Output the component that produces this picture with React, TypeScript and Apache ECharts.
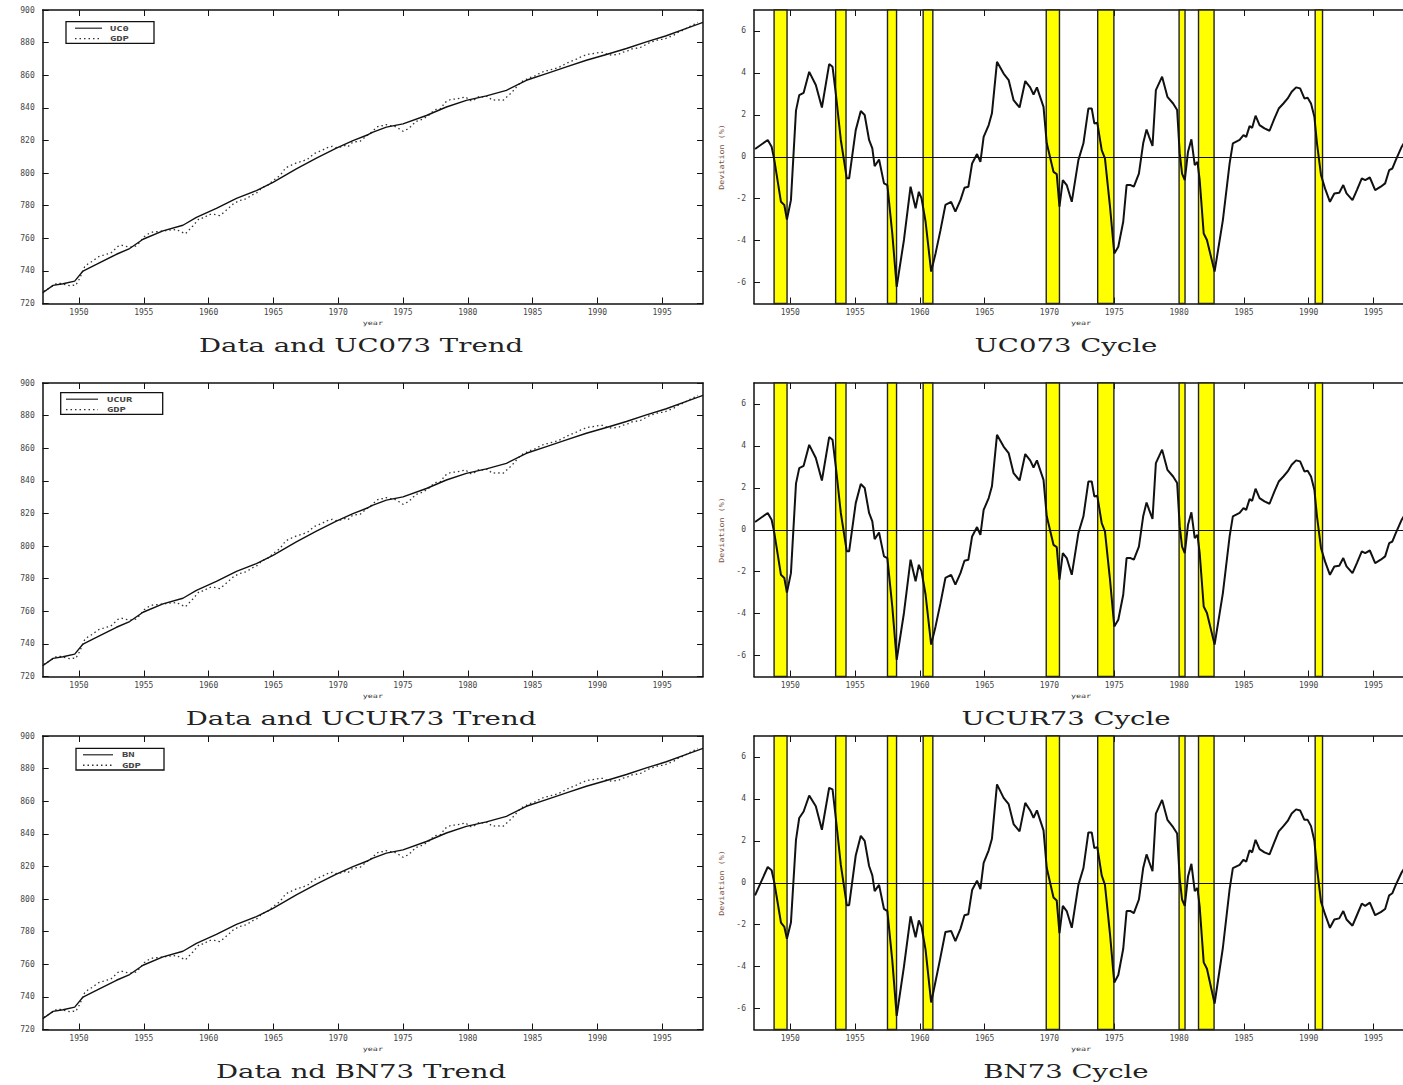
import React, { useEffect, useRef } from 'react';
import * as echarts from 'echarts';

// ---------- data ----------
const xTickYears = [1950, 1955, 1960, 1965, 1970, 1975, 1980, 1985, 1990, 1995];
const levelTicks = [720, 740, 760, 780, 800, 820, 840, 860, 880, 900];
const deviationTicks = [-6, -4, -2, 0, 2, 4, 6];

const recessionStarts = [1948.75, 1953.5, 1957.5, 1960.25, 1969.75, 1973.72, 1980.0, 1981.5, 1990.5];
const recessionEnds = [1949.75, 1954.3, 1958.2, 1961.0, 1970.77, 1974.97, 1980.46, 1982.7, 1991.07];

const trendYears = [
  1947.2, 1948.0, 1948.77, 1949.67, 1950.31, 1951.34, 1952.89, 1953.91, 1954.94, 1956.48,
  1958.02, 1959.06, 1960.6, 1962.15, 1963.69, 1964.97, 1966.77, 1968.32, 1969.86, 1971.14,
  1972.3, 1972.69, 1973.72, 1975.0, 1976.81, 1978.35, 1979.89, 1981.44, 1982.98, 1984.52,
  1986.07, 1987.61, 1989.15, 1990.7, 1992.24, 1993.78, 1995.32, 1996.87, 1998.15,
];
const trendValues = [
  726.6, 731.1, 732.1, 733.7, 739.9, 744.0, 750.2, 753.7, 759.4, 764.5,
  768.0, 772.8, 778.3, 784.5, 789.2, 794.3, 802.5, 809.1, 815.3, 819.9,
  823.5, 825.1, 828.2, 830.2, 835.3, 840.5, 844.6, 847.3, 850.7, 856.9,
  861.0, 865.1, 869.2, 872.7, 876.4, 880.5, 884.2, 888.7, 892.4,
];

const cycleYears = [
  1947.28, 1948.26, 1948.56, 1948.77, 1949.28, 1949.54, 1949.74, 1950.05, 1950.44, 1950.69,
  1951.03, 1951.46, 1951.97, 1952.44, 1953.0, 1953.26, 1953.51, 1953.9, 1954.36, 1954.54,
  1955.05, 1955.44, 1955.74, 1956.08, 1956.33, 1956.51, 1956.85, 1957.23, 1957.49, 1957.87,
  1958.21, 1958.77, 1959.28, 1959.67, 1959.92, 1960.13, 1960.44, 1960.87, 1961.21, 1961.59,
  1961.97, 1962.41, 1962.74, 1963.13, 1963.44, 1963.74, 1964.03, 1964.41, 1964.67, 1964.92,
  1965.31, 1965.56, 1965.95, 1966.46, 1966.85, 1967.23, 1967.69, 1968.13, 1968.51, 1968.77,
  1969.03, 1969.54, 1969.79, 1970.31, 1970.56, 1970.77, 1971.03, 1971.33, 1971.72, 1972.23,
  1972.62, 1973.0, 1973.26, 1973.46, 1973.69, 1974.03, 1974.28, 1974.67, 1975.0, 1975.31,
  1975.69, 1975.95, 1976.26, 1976.51, 1976.9, 1977.23, 1977.49, 1977.69, 1977.95, 1978.21,
  1978.69, 1979.1, 1979.54, 1979.85, 1980.05, 1980.23, 1980.44, 1980.69, 1980.95, 1981.21,
  1981.42, 1981.59, 1981.9, 1982.15, 1982.74, 1983.38, 1983.9, 1984.15, 1984.67, 1984.97,
  1985.18, 1985.44, 1985.64, 1985.9, 1986.21, 1986.59, 1986.98, 1987.36, 1987.69, 1988.05,
  1988.38, 1988.69, 1989.03, 1989.34, 1989.67, 1989.92, 1990.18, 1990.44, 1990.64, 1990.95,
  1991.26, 1991.64, 1991.98, 1992.36, 1992.67, 1992.92, 1993.38, 1993.72, 1994.1, 1994.36,
  1994.72, 1995.13, 1995.56, 1995.9, 1996.21, 1996.46, 1996.72, 1997.18, 1997.5, 1997.75,
];

const gdpValues = [
  727.4, 732.2, 732.3, 731.9, 730.9, 731.2, 731.0, 735.3, 742.6, 744.3,
  745.9, 748.5, 749.9, 750.8, 755.0, 755.8, 755.3, 754.5, 755.2, 756.2,
  761.1, 763.2, 764.0, 764.0, 764.4, 764.2, 765.2, 764.9, 765.5, 764.0,
  762.7, 767.4, 772.2, 772.5, 774.2, 774.6, 774.6, 773.9, 776.1, 778.8,
  781.5, 783.2, 783.7, 785.4, 786.9, 788.0, 790.2, 792.2, 792.9, 795.1,
  797.3, 799.0, 803.2, 805.1, 806.5, 807.2, 808.8, 811.9, 813.2, 813.9,
  815.3, 816.4, 815.6, 816.2, 817.0, 816.2, 818.4, 819.2, 819.6, 823.1,
  825.4, 828.3, 829.1, 829.0, 829.7, 829.0, 829.0, 827.3, 825.6, 826.8,
  829.0, 831.5, 832.4, 833.1, 834.8, 837.3, 838.9, 839.2, 839.6, 843.2,
  845.2, 845.4, 846.2, 846.7, 845.1, 844.4, 844.5, 846.2, 847.3, 846.5,
  847.1, 846.5, 844.6, 844.9, 844.7, 849.3, 854.1, 856.0, 858.1, 859.1,
  859.6, 860.8, 861.3, 862.6, 862.9, 863.8, 864.6, 866.2, 867.6, 868.8,
  869.9, 871.1, 872.2, 872.9, 873.2, 873.7, 874.0, 874.0, 873.2, 872.4,
  872.5, 872.9, 874.1, 875.0, 876.2, 876.4, 877.3, 878.7, 880.3, 880.8,
  881.8, 882.1, 883.5, 884.6, 886.2, 886.9, 888.1, 890.1, 891.3, 892.4,
];

const cycleUC0 = [
  0.37, 0.8, 0.48, -0.16, -2.15, -2.3, -3.0, -2.07, 2.2, 2.94,
  3.05, 4.05, 3.42, 2.35, 4.42, 4.29, 3.02, 0.8, -1.03, -1.03,
  1.27, 2.18, 1.99, 0.8, 0.4, -0.45, -0.13, -1.27, -1.35, -3.66,
  -6.2, -3.97, -1.43, -2.46, -1.67, -1.99, -3.1, -5.48, -4.61, -3.5,
  -2.3, -2.15, -2.62, -2.07, -1.48, -1.43, -0.32, 0.13, -0.24, 0.95,
  1.51, 2.07, 4.53, 3.97, 3.66, 2.7, 2.35, 3.61, 3.31, 2.97,
  3.31, 2.38, 0.64, -0.72, -0.83, -2.38, -1.11, -1.35, -2.15, -0.16,
  0.64, 2.3, 2.3, 1.59, 1.62, 0.32, -0.08, -2.38, -4.61, -4.29,
  -3.1, -1.35, -1.35, -1.43, -0.8, 0.64, 1.3, 0.95, 0.52, 3.18,
  3.82, 2.86, 2.54, 2.23, 0.16, -0.8, -1.11, 0.24, 0.83, -0.4,
  -0.24, -1.11, -3.66, -3.97, -5.48, -3.02, -0.32, 0.64, 0.8, 1.03,
  0.95, 1.46, 1.38, 1.96, 1.51, 1.35, 1.24, 1.83, 2.3, 2.54,
  2.78, 3.1, 3.31, 3.26, 2.78, 2.81, 2.54, 1.91, 0.64, -0.87,
  -1.51, -2.15, -1.75, -1.72, -1.35, -1.75, -2.07, -1.59, -1.03, -1.11,
  -0.99, -1.59, -1.43, -1.27, -0.64, -0.56, -0.16, 0.48, 0.8, 1.1,
];

const cycleUCUR = [
  0.37, 0.8, 0.48, -0.16, -2.15, -2.3, -3.0, -2.07, 2.2, 2.94,
  3.05, 4.05, 3.42, 2.35, 4.42, 4.29, 3.02, 0.8, -1.03, -1.03,
  1.27, 2.18, 1.99, 0.8, 0.4, -0.45, -0.13, -1.27, -1.35, -3.66,
  -6.2, -3.97, -1.43, -2.46, -1.67, -1.99, -3.1, -5.48, -4.61, -3.5,
  -2.3, -2.15, -2.62, -2.07, -1.48, -1.43, -0.32, 0.13, -0.24, 0.95,
  1.51, 2.07, 4.53, 3.97, 3.66, 2.7, 2.35, 3.61, 3.31, 2.97,
  3.31, 2.38, 0.64, -0.72, -0.83, -2.38, -1.11, -1.35, -2.15, -0.16,
  0.64, 2.3, 2.3, 1.59, 1.62, 0.32, -0.08, -2.38, -4.61, -4.29,
  -3.1, -1.35, -1.35, -1.43, -0.8, 0.64, 1.3, 0.95, 0.52, 3.18,
  3.82, 2.86, 2.54, 2.23, 0.16, -0.8, -1.11, 0.24, 0.83, -0.4,
  -0.24, -1.11, -3.66, -3.97, -5.48, -3.02, -0.32, 0.64, 0.8, 1.03,
  0.95, 1.46, 1.38, 1.96, 1.51, 1.35, 1.24, 1.83, 2.3, 2.54,
  2.78, 3.1, 3.31, 3.26, 2.78, 2.81, 2.54, 1.91, 0.64, -0.87,
  -1.51, -2.15, -1.75, -1.72, -1.35, -1.75, -2.07, -1.59, -1.03, -1.11,
  -0.99, -1.59, -1.43, -1.27, -0.64, -0.56, -0.16, 0.48, 0.8, 1.1,
];

const cycleBN = [
  -0.6, 0.75, 0.6, 0.0, -1.9, -2.1, -2.67, -1.9, 2.05, 3.09,
  3.4, 4.16, 3.65, 2.53, 4.53, 4.45, 3.1, 0.85, -1.07, -1.07,
  1.3, 2.24, 2.0, 0.8, 0.35, -0.4, -0.1, -1.25, -1.35, -3.7,
  -6.35, -4.0, -1.6, -2.6, -1.8, -2.1, -3.2, -5.71, -4.7, -3.55,
  -2.35, -2.3, -2.78, -2.2, -1.55, -1.5, -0.35, 0.1, -0.3, 0.95,
  1.55, 2.1, 4.69, 4.05, 3.75, 2.8, 2.45, 3.81, 3.45, 3.1,
  3.45, 2.5, 0.7, -0.7, -0.85, -2.4, -1.1, -1.35, -2.15, -0.1,
  0.7, 2.4, 2.4, 1.65, 1.7, 0.35, -0.1, -2.45, -4.76, -4.4,
  -3.15, -1.35, -1.35, -1.45, -0.8, 0.7, 1.35, 1.0, 0.55, 3.3,
  3.95, 3.0, 2.65, 2.35, 0.2, -0.8, -1.1, 0.3, 0.9, -0.4,
  -0.25, -1.15, -3.8, -4.1, -5.76, -3.1, -0.3, 0.7, 0.85, 1.1,
  1.0, 1.55, 1.45, 2.05, 1.6, 1.45, 1.35, 1.95, 2.45, 2.7,
  2.95, 3.3, 3.5, 3.45, 3.0, 3.0, 2.7, 2.0, 0.7, -0.9,
  -1.5, -2.15, -1.75, -1.7, -1.35, -1.75, -2.05, -1.55, -1.0, -1.1,
  -0.95, -1.55, -1.4, -1.25, -0.6, -0.5, -0.1, 0.5, 0.8, 1.1,
];

const trendLegendNames = ['UC0', 'UCUR', 'BN'];
const trendTitles = ['Data and UC073 Trend', 'Data and UCUR73 Trend', 'Data nd BN73 Trend'];
const cycleTitles = ['UC073 Cycle', 'UCUR73 Cycle', 'BN73 Cycle'];
const cycleSets = [cycleUC0, cycleUCUR, cycleBN];

// ---------- layout ----------
const X_MIN = 1947.2;
const X_MAX = 1998.15;
const ROW_TOPS = [10, 383, 736];
const PLOT_H = 293.5;
const PLOT_W = 660.3;
const LEFT_X = 42.7;
const RIGHT_X = 754;
const LEGEND_BOXES = [
  { x: 66, y: 21.7, w: 88, h: 21.6, lx0: 75, lx1: 102, tx: 110 },
  { x: 60.7, y: 392.7, w: 102, h: 21.6, lx0: 66, lx1: 98, tx: 107 },
  { x: 76, y: 748.3, w: 88, h: 21.7, lx0: 83, lx1: 113, tx: 122 },
];

const FONT_MONO = '"DejaVu Sans Mono", monospace';
const FONT_SERIF = '"DejaVu Serif", serif';

function pairs(xs: number[], ys: number[]) {
  return xs.map((x, i) => [x, ys[i]]);
}

const plainNumber = (v: number) => String(v);

function buildOption() {
  const grid: any[] = [];
  const xAxis: any[] = [];
  const yAxis: any[] = [];
  const series: any[] = [];
  const graphic: any[] = [];

  const tickStyle = { color: '#111', width: 1 };
  const lineStyle = { color: '#111', width: 1.5 };

  ROW_TOPS.forEach((top, r) => {
    [0, 1].forEach((side) => {
      const g = 2 * r + side;
      grid.push({
        left: side === 0 ? LEFT_X : RIGHT_X,
        top,
        width: PLOT_W,
        height: PLOT_H,
        outerBoundsMode: 'none',
        containLabel: false,
        show: false,
      });
      const isLevel = side === 0;
      const yMin = isLevel ? 720 : -7;
      const yMax = isLevel ? 900 : 7;
      const yTicks = isLevel ? levelTicks : deviationTicks;
      xAxis.push({
        type: 'value', gridIndex: g, position: 'bottom', min: X_MIN, max: X_MAX,
        axisLine: { show: true, onZero: false, lineStyle },
        axisTick: { show: true, inside: true, length: 6, customValues: xTickYears, lineStyle: tickStyle },
        axisLabel: { show: true, customValues: xTickYears, formatter: plainNumber, fontSize: 8, fontFamily: FONT_MONO, color: '#444', margin: 5 },
        splitLine: { show: false },
      });
      xAxis.push({
        type: 'value', gridIndex: g, position: 'top', min: X_MIN, max: X_MAX,
        axisLine: { show: true, onZero: false, lineStyle },
        axisTick: { show: true, inside: true, length: 6, customValues: xTickYears, lineStyle: tickStyle },
        axisLabel: { show: false },
        splitLine: { show: false },
      });
      yAxis.push({
        type: 'value', gridIndex: g, position: 'left', min: yMin, max: yMax,
        axisLine: { show: true, onZero: false, lineStyle },
        axisTick: { show: true, inside: true, length: 6, customValues: yTicks, lineStyle: tickStyle },
        axisLabel: { show: true, customValues: yTicks, formatter: plainNumber, fontSize: 8, fontFamily: FONT_MONO, color: '#444', margin: 8 },
        splitLine: { show: false },
      });
      yAxis.push({
        type: 'value', gridIndex: g, position: 'right', min: yMin, max: yMax,
        axisLine: { show: true, onZero: false, lineStyle },
        axisTick: { show: true, inside: true, length: 6, customValues: yTicks, lineStyle: tickStyle },
        axisLabel: { show: false },
        splitLine: { show: false },
      });

      const xi = 2 * g;
      const yi = 2 * g;
      if (isLevel) {
        series.push({
          type: 'line', xAxisIndex: xi, yAxisIndex: yi, name: trendLegendNames[r],
          data: pairs(trendYears, trendValues), symbol: 'none', z: 4,
          lineStyle: { color: '#111', width: 1.4, type: 'solid' },
        });
        series.push({
          type: 'line', xAxisIndex: xi, yAxisIndex: yi, name: 'GDP',
          data: pairs(cycleYears, gdpValues), symbol: 'none', z: 3,
          lineStyle: { color: '#333', width: 1.3, type: [1.5, 3] },
        });
      } else {
        series.push({
          type: 'line', xAxisIndex: xi, yAxisIndex: yi, name: 'recessions',
          data: [], symbol: 'none', z: 1, silent: true,
          markArea: {
            silent: true,
            itemStyle: { color: '#ffff00', borderColor: '#222', borderWidth: 1.4 },
            data: recessionStarts.map((s, i) => [{ xAxis: s }, { xAxis: recessionEnds[i] }]),
          },
        });
        series.push({
          type: 'line', xAxisIndex: xi, yAxisIndex: yi, name: 'cycle',
          data: pairs(cycleYears, cycleSets[r]), symbol: 'none', z: 5,
          lineStyle: { color: '#111', width: 2 },
          markLine: {
            silent: true, symbol: 'none', label: { show: false },
            lineStyle: { color: '#111', width: 1, type: 'solid' },
            data: [{ yAxis: 0 }],
          },
        });
      }
    });

    graphic.push({
      type: 'text', x: 361, y: top + 336, scaleX: 1.45,
      style: { text: trendTitles[r], font: `19px ${FONT_SERIF}`, fill: '#222', textAlign: 'center', textVerticalAlign: 'middle', align: 'center', verticalAlign: 'middle' },
    });
    graphic.push({
      type: 'text', x: 1066, y: top + 336, scaleX: 1.45,
      style: { text: cycleTitles[r], font: `19px ${FONT_SERIF}`, fill: '#222', textAlign: 'center', textVerticalAlign: 'middle', align: 'center', verticalAlign: 'middle' },
    });
    [LEFT_X + PLOT_W / 2, RIGHT_X + 327].forEach((cx) => {
      graphic.push({
        type: 'text', x: cx, y: top + 313, scaleX: 1.4,
        style: { text: 'year', font: `6px ${FONT_MONO}`, fill: '#333', textAlign: 'center', textVerticalAlign: 'middle', align: 'center', verticalAlign: 'middle' },
      });
    });
    graphic.push({
      type: 'text', x: 722, y: top + 147, rotation: Math.PI / 2, scaleX: 1.2,
      style: { text: 'Deviation (%)', font: `7px ${FONT_MONO}`, fill: '#7a5040', textAlign: 'center', textVerticalAlign: 'middle', align: 'center', verticalAlign: 'middle' },
    });
    const lb = LEGEND_BOXES[r];
    graphic.push({
      type: 'rect', shape: { x: lb.x, y: lb.y, width: lb.w, height: lb.h },
      style: { fill: '#fff', stroke: '#111', lineWidth: 1.3 }, z: 10,
    });
    const y1 = lb.y + lb.h * 0.3;
    const y2 = lb.y + lb.h * 0.78;
    graphic.push({
      type: 'line', shape: { x1: lb.lx0, y1, x2: lb.lx1, y2: y1 },
      style: { stroke: '#111', lineWidth: 1.1 }, z: 11,
    });
    graphic.push({
      type: 'line', shape: { x1: lb.lx0, y1: y2, x2: lb.lx1, y2 },
      style: { stroke: '#333', lineWidth: 1.3, lineDash: [1.5, 3] }, z: 11,
    });
    graphic.push({
      type: 'text', x: lb.tx, y: y1, scaleX: 1.5, z: 11,
      style: { text: trendLegendNames[r], font: `bold 7px ${FONT_MONO}`, fill: '#444', textAlign: 'left', textVerticalAlign: 'middle', align: 'left', verticalAlign: 'middle' },
    });
    graphic.push({
      type: 'text', x: lb.tx, y: y2, scaleX: 1.5, z: 11,
      style: { text: 'GDP', font: `bold 7px ${FONT_MONO}`, fill: '#444', textAlign: 'left', textVerticalAlign: 'middle', align: 'left', verticalAlign: 'middle' },
    });
  });

  return {
    animation: false,
    backgroundColor: '#ffffff',
    textStyle: { fontFamily: FONT_MONO },
    grid, xAxis, yAxis, series, graphic,
  };
}

export default function App() {
  const ref = useRef<HTMLDivElement>(null);
  useEffect(() => {
    if (!ref.current) return;
    const chart = echarts.init(ref.current, undefined, { renderer: 'svg' });
    chart.setOption(buildOption() as any);
    return () => chart.dispose();
  }, []);
  return (
    <div
      ref={ref}
      style={{ position: 'fixed', left: 0, top: 0, width: 1403, height: 1085, background: '#fff' }}
    />
  );
}
